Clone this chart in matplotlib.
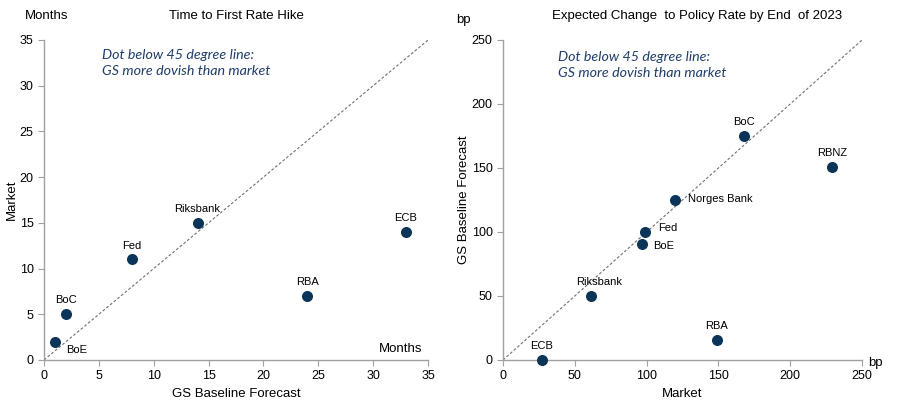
import matplotlib
matplotlib.use("Agg")
import matplotlib.pyplot as plt

plt.rcParams['font.family'] = ['Liberation Sans', 'DejaVu Sans']

# Left panel: time to first hike (months)
left_banks = ["BoE", "BoC", "Fed", "Riksbank", "RBA", "ECB"]
left_gs = [1, 2, 8, 14, 24, 33]
left_market = [2, 5, 11, 15, 7, 14]

# Right panel: expected change by end-2023 (bp)
right_banks = ["ECB", "Riksbank", "BoE", "Fed", "Norges Bank", "BoC", "RBNZ", "RBA"]
right_market = [27, 61, 97, 99, 120, 168, 229, 149]
right_gs = [0, 50, 91, 100, 125, 175, 151, 16]

left_ticks = [0, 5, 10, 15, 20, 25, 30, 35]
right_ticks = [0, 50, 100, 150, 200, 250]

DOT = "#0b3558"
NOTE = "#1f3d6b"
SPINE = "#a0a0a0"

fig = plt.figure(figsize=(9.03, 4.07), dpi=100)
W, H = 903, 407
axL = fig.add_axes([44 / W, 1 - 360 / H, 384 / W, 320 / H])
axR = fig.add_axes([503 / W, 1 - 360 / H, 359 / W, 320 / H])

def style(ax, ticks):
    ax.set_xlim(ticks[0], ticks[-1])
    ax.set_ylim(ticks[0], ticks[-1])
    ax.set_xticks(ticks)
    ax.set_yticks(ticks)
    for s in ["top", "right"]:
        ax.spines[s].set_visible(False)
    for s in ["left", "bottom"]:
        ax.spines[s].set_color(SPINE)
        ax.spines[s].set_linewidth(1.0)
    ax.tick_params(colors=SPINE, labelcolor="black", labelsize=9, length=4, width=0.8)
    ax.plot([ticks[0], ticks[-1]], [ticks[0], ticks[-1]], linestyle=(0, (2.5, 1.8)),
            color="#707070", linewidth=0.8, zorder=1)

style(axL, left_ticks)
style(axR, right_ticks)

axL.scatter(left_gs, left_market, s=48, color=DOT, zorder=3, clip_on=False)
axR.scatter(right_market, right_gs, s=48, color=DOT, zorder=3, clip_on=False)

left_off = {"BoE": (8, -6, "left"), "BoC": (0, 10, "center"), "Fed": (0, 10, "center"),
            "Riksbank": (0, 10, "center"), "RBA": (0, 10, "center"), "ECB": (0, 10, "center")}
for b, x, y in zip(left_banks, left_gs, left_market):
    dx, dy, ha = left_off[b]
    axL.annotate(b, (x, y), xytext=(dx, dy), textcoords="offset points",
                 ha=ha, va="center", fontsize=8)

right_off = {"ECB": (0, 10, "center"), "Riksbank": (6, 10, "center"), "BoE": (8, -2, "left"),
             "Fed": (9, 3, "left"), "Norges Bank": (9, 1, "left"), "BoC": (0, 10, "center"),
             "RBNZ": (0, 10, "center"), "RBA": (0, 10, "center")}
for b, x, y in zip(right_banks, right_market, right_gs):
    dx, dy, ha = right_off[b]
    axR.annotate(b, (x, y), xytext=(dx, dy), textcoords="offset points",
                 ha=ha, va="center", fontsize=8)

axL.set_xlabel("GS Baseline Forecast", fontsize=9.5, labelpad=4)
axL.set_ylabel("Market", fontsize=9.5, labelpad=1)
axR.set_xlabel("Market", fontsize=9.5, labelpad=4)
axR.set_ylabel("GS Baseline Forecast", fontsize=9.5, labelpad=1)

fig.text(236 / W, 1 - 16 / H, "Time to First Rate Hike", ha="center", va="center", fontsize=9.5)
fig.text(697 / W, 1 - 16 / H, "Expected Change  to Policy Rate by End  of 2023", ha="center", va="center", fontsize=9.5)
fig.text(47 / W, 1 - 16 / H, "Months", ha="center", va="center", fontsize=9.5)
fig.text(463 / W, 1 - 20 / H, "bp", ha="center", va="center", fontsize=9.5)
fig.text(422 / W, 1 - 349 / H, "Months", ha="right", va="center", fontsize=9.5)
fig.text(875 / W, 1 - 363 / H, "bp", ha="center", va="center", fontsize=9.5)

note = "Dot below 45 degree line:\nGS more dovish than market"
fig.text(102 / W, 1 - 63 / H, note, ha="left", va="center", fontsize=10.3,
         style="italic", color=NOTE, family=["Lato", "DejaVu Sans"], linespacing=1.45)
fig.text(558 / W, 1 - 65 / H, note, ha="left", va="center", fontsize=10.3,
         style="italic", color=NOTE, family=["Lato", "DejaVu Sans"], linespacing=1.45)

fig.savefig("out.png", dpi=100)
